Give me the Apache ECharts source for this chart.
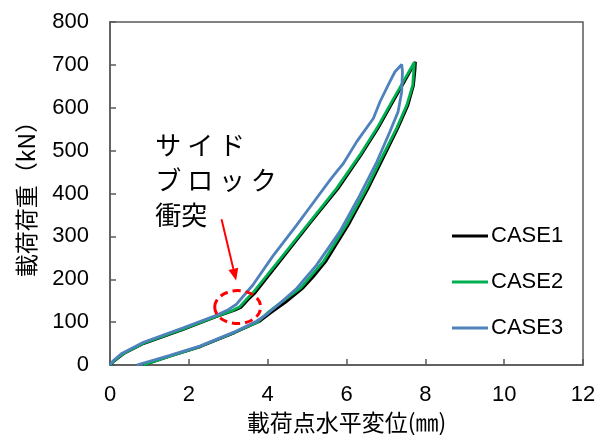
<!DOCTYPE html>
<html>
<head>
<meta charset="utf-8">
<script src="https://cdn.jsdelivr.net/npm/echarts@6/dist/echarts.min.js"></script>
<style>
  html, body { margin: 0; padding: 0; background: #fff; }
  #chart { width: 606px; height: 435px; }
</style>
</head>
<body>
<div id="chart"></div>
<script>
// 載荷点水平変位 (mm), 載荷荷重 (kN) -- 往路(上側) → 頂点 → 復路(下側)
var case1 = [
  [0, 0], [0.08, 7], [0.34, 26], [0.85, 50], [1.86, 83], [2.71, 113], [3.15, 127],
  [3.32, 134], [3.5, 152], [3.68, 168], [4.44, 257], [5.1, 334], [5.79, 412],
  [6.37, 490], [6.8, 552], [7.13, 606], [7.47, 661], [7.75, 707],
  [7.74, 690], [7.7, 652], [7.56, 606], [7.3, 552], [6.97, 490], [6.55, 412],
  [6.05, 327], [5.47, 241], [5.15, 205], [4.9, 180], [4.45, 146], [4.05, 120],
  [3.8, 102], [3.15, 75], [2.3, 43], [1.5, 20], [0.85, 0]
];
var case2 = [
  [0, 0], [0.08, 8], [0.34, 27], [0.85, 51], [1.86, 84], [2.71, 114], [3.13, 128],
  [3.28, 135], [3.45, 152], [3.64, 170], [4.4, 257], [5.07, 334], [5.75, 412],
  [6.34, 490], [6.77, 552], [7.1, 606], [7.44, 661], [7.72, 706],
  [7.71, 692], [7.68, 653], [7.53, 606], [7.27, 552], [6.93, 490], [6.51, 412],
  [6.0, 327], [5.41, 241], [4.84, 180], [4.4, 150], [4.0, 122], [3.74, 100],
  [3.13, 75], [2.28, 43], [1.5, 20], [0.85, 0]
];
var case3 = [
  [0, 0], [0.08, 10], [0.3, 27], [0.85, 53], [1.86, 87], [2.7, 116], [3.0, 129],
  [3.2, 141], [3.45, 168], [3.62, 186], [4.14, 255], [4.74, 327], [5.24, 389],
  [5.58, 431], [5.75, 451], [5.92, 470], [6.26, 521], [6.68, 575], [6.85, 614],
  [7.1, 661], [7.23, 684], [7.4, 701],
  [7.42, 684], [7.4, 637], [7.31, 591], [7.1, 544], [6.77, 474], [6.34, 396],
  [5.83, 311], [5.24, 233], [4.74, 179], [4.31, 144], [4.0, 120], [3.72, 102],
  [3.13, 76], [2.28, 44], [1.5, 22], [0.68, 0]
];
var seriesNames = ["CASE1", "CASE2", "CASE3"];
var seriesColors = ["#000000", "#00b050", "#4f81bd"];

var labelFont = "'Liberation Sans', Arial, sans-serif";
var jpFont = "'Noto Sans CJK JP', sans-serif";
var axisColor = "#595959";

var myChart = echarts.init(document.getElementById("chart"), null, { renderer: "canvas" });

var option = {
  animation: false,
  grid: {
    left: 110,
    right: 23,
    top: 22,
    bottom: 70,
    containLabel: false,
    outerBoundsMode: "none",
    show: true,
    borderColor: axisColor,
    borderWidth: 1.5
  },
  legend: {
    orient: "vertical",
    left: 447,
    top: 220,
    icon: "rect",
    itemWidth: 36,
    itemHeight: 3,
    itemGap: 24,
    data: seriesNames,
    textStyle: {
      fontFamily: "'Liberation Sans Narrow', " + labelFont,
      fontSize: 22,
      lineHeight: 22,
      color: "#000",
      padding: [0, 0, 0, -2]
    }
  },
  xAxis: {
    type: "value",
    min: 0,
    max: 12,
    interval: 2,
    name: "載荷点水平変位(㎜)",
    nameLocation: "middle",
    nameGap: 37,
    nameTextStyle: { fontFamily: jpFont, fontSize: 23, color: "#000" },
    axisLine: { show: true, lineStyle: { color: axisColor, width: 1.5 } },
    axisTick: { show: true, inside: true, length: 6, lineStyle: { color: axisColor, width: 1.5 } },
    axisLabel: { margin: 19, fontFamily: labelFont, fontSize: 22, color: "#000" },
    splitLine: { show: false }
  },
  yAxis: {
    type: "value",
    min: 0,
    max: 800,
    interval: 100,
    name: "載荷荷重（kN）",
    nameLocation: "middle",
    nameRotate: 90,
    nameGap: 72,
    nameTextStyle: { fontFamily: jpFont, fontSize: 23, color: "#000" },
    axisLine: { show: true, lineStyle: { color: axisColor, width: 1.5 } },
    axisTick: { show: true, inside: true, length: 6, lineStyle: { color: axisColor, width: 1.5 } },
    axisLabel: { margin: 21, fontFamily: labelFont, fontSize: 22, color: "#000" },
    splitLine: { show: false }
  },
  series: [case1, case2, case3].map(function (d, i) {
    return {
      name: seriesNames[i],
      type: "line",
      data: d,
      symbol: "none",
      smooth: false,
      color: seriesColors[i],
      lineStyle: { color: seriesColors[i], width: 2.8 }
    };
  })
};
myChart.setOption(option);

// 注記「サイドブロック衝突」: データ座標から位置を決める
function px(pt) {
  return myChart.convertToPixel({ gridIndex: 0 }, pt);
}
var textPos = px([1.15, 554]);
var arrowFrom = px([2.83, 340]);
var arrowTo = px([3.2, 197]);
var ellipseC = px([3.24, 135]);

var ang = Math.atan2(arrowTo[1] - arrowFrom[1], arrowTo[0] - arrowFrom[0]);
var headLen = 12, headW = 5;
var baseX = arrowTo[0] - headLen * Math.cos(ang);
var baseY = arrowTo[1] - headLen * Math.sin(ang);
var nx = -Math.sin(ang), ny = Math.cos(ang);

myChart.setOption({
  graphic: [
    {
      type: "text",
      left: textPos[0],
      top: textPos[1],
      z: 100,
      style: {
        text: "サ イ ド\nブ ロ ッ ク\n衝突",
        font: "26px " + jpFont,
        lineHeight: 35,
        fill: "#000"
      }
    },
    {
      type: "line",
      z: 100,
      shape: { x1: arrowFrom[0], y1: arrowFrom[1], x2: baseX, y2: baseY },
      style: { stroke: "#ff0000", lineWidth: 2 }
    },
    {
      type: "polygon",
      z: 100,
      shape: {
        points: [
          [arrowTo[0], arrowTo[1]],
          [baseX + nx * headW, baseY + ny * headW],
          [baseX - nx * headW, baseY - ny * headW]
        ]
      },
      style: { fill: "#ff0000" }
    },
    {
      type: "ellipse",
      z: 100,
      shape: { cx: ellipseC[0], cy: ellipseC[1], rx: 23, ry: 16.5 },
      style: { fill: null, stroke: "#ff0000", lineWidth: 3, lineDash: [8, 5] }
    }
  ]
});
</script>
</body>
</html>
